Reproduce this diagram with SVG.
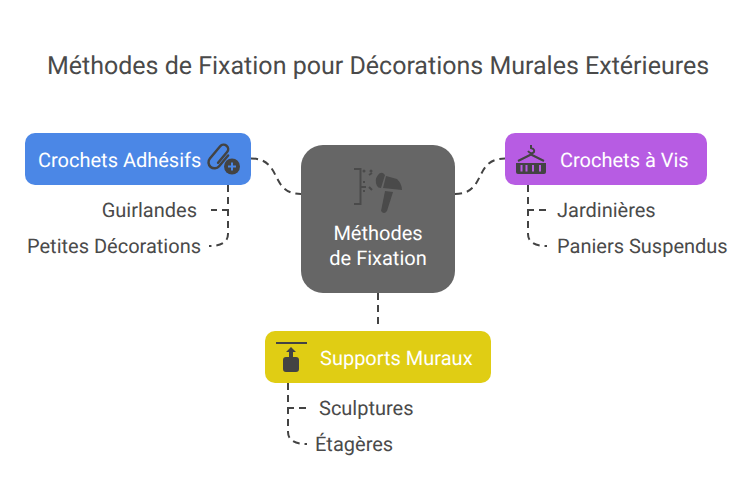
<svg xmlns="http://www.w3.org/2000/svg" width="756" height="504" viewBox="0 0 756 504">
<style>
text{font-family:Roboto,"Liberation Sans",sans-serif;text-rendering:geometricPrecision}
.t{font-size:25px;fill:#4a4a4a}
.n{font-size:20px;fill:#fff}
.l{font-size:20px;fill:#4a4a4a}
.c{fill:none;stroke:#434343;stroke-width:2;stroke-dasharray:7 5}
.i{fill:#434343}
.s{fill:none;stroke:#434343}
.h{fill:#4a4a4a}
</style>
<rect width="756" height="504" fill="#fff"/>
<text class="t" x="378" y="74" text-anchor="middle" id="title">Méthodes de Fixation pour Décorations Murales Extérieures</text>
<g id="connectors">
<path class="c" d="M251 158.500C283 158.500 269 194 301 194"/>
<path class="c" d="M455 194C487 194 473 158.500 505 158.500"/>
<path class="c" d="M378 293V325"/>
<path class="c" d="M228 185V210H211"/>
<path class="c" d="M228 185V234Q228 246 209 246"/>
<path class="c" d="M528 185V210H546"/>
<path class="c" d="M528 185V234Q528 246 547 246"/>
<path class="c" d="M288 383V408H306"/>
<path class="c" d="M288 383V432Q288 444 307 444"/>
</g>
<g id="node-center">
<rect x="301" y="145" width="154" height="148" rx="22" fill="#666"/>
<path d="M354 169H360.500V204H354M360.500 187H366" fill="none" stroke="#4a4a4a" stroke-width="2"/>
<circle class="h" cx="364" cy="171" r="1.500"/><circle class="h" cx="371" cy="171" r="1.500"/>
<path d="M369 175l3-2M369 187l3 3M364 181v2M364 190v2" stroke="#4a4a4a" stroke-width="2"/>
<path class="h" d="M378 175Q380 172 383 173L385 175L381 188Q378 188 377 186Q374 180 378 175Z"/>
<path class="h" d="M386 176L397 179Q402 184 402 190L383 188Z"/>
<path class="h" d="M385 191L393 192L387 211Q384 215 381 211Z"/>
<text class="n" x="378" y="240" text-anchor="middle">Méthodes</text>
<text class="n" x="378" y="265" text-anchor="middle">de Fixation</text>
</g>
<g id="node-adhesifs">
<rect x="25" y="133" width="226" height="52" rx="10" fill="#4b87e6"/>
<text class="n" x="38" y="166.500">Crochets Adhésifs</text>
<path class="s" stroke-width="2.500" stroke-linecap="round" transform="rotate(40 219 157)" d="M225 150V164A6 6 0 0 1 213 164V148A4.500 4.500 0 0 1 222 148V162"/>
<circle cx="232" cy="166.500" r="8" class="i"/>
<path d="M228 166.500H236M232 162.500V170.500" stroke="#4b87e6" stroke-width="2"/>
</g>
<g id="node-vis">
<rect x="505" y="133" width="202" height="52" rx="10" fill="#b75ce3"/>
<text class="n" x="560" y="166.500">Crochets à Vis</text>
<path class="s" stroke-width="2" d="M531 145V148Q535 149 534 152Q531 155 528 151"/>
<path class="s" stroke-width="2" d="M531 154.500L518 161M531 154.500L544 161"/>
<path class="i" d="M516 163H546V172Q546 174 544 174H518Q516 174 516 172Z"/>
<path d="M521.500 165V171.500M526.500 165V171.500M533 165V171.500M540 165V171.500" stroke="#b75ce3" stroke-width="2"/>
</g>
<g id="node-supports">
<rect x="265" y="331" width="226" height="52" rx="10" fill="#e0cd14"/>
<text class="n" x="320" y="364.500">Supports Muraux</text>
<path d="M276 343H307" stroke="#434343" stroke-width="2"/>
<path class="i" d="M291 347L296 352H293V357H296Q299 357 299 360V369Q299 372 296 372H286Q283 372 283 369V360Q283 357 286 357H289V352H286Z"/>
</g>
<g id="labels">
<text class="l" x="197" y="216.500" text-anchor="end">Guirlandes</text>
<text class="l" x="201" y="252.500" text-anchor="end">Petites Décorations</text>
<text class="l" x="557" y="216.500">Jardinières</text>
<text class="l" x="557" y="252.500">Paniers Suspendus</text>
<text class="l" x="319" y="414.500">Sculptures</text>
<text class="l" x="315" y="450.500">Étagères</text>
</g>
</svg>
